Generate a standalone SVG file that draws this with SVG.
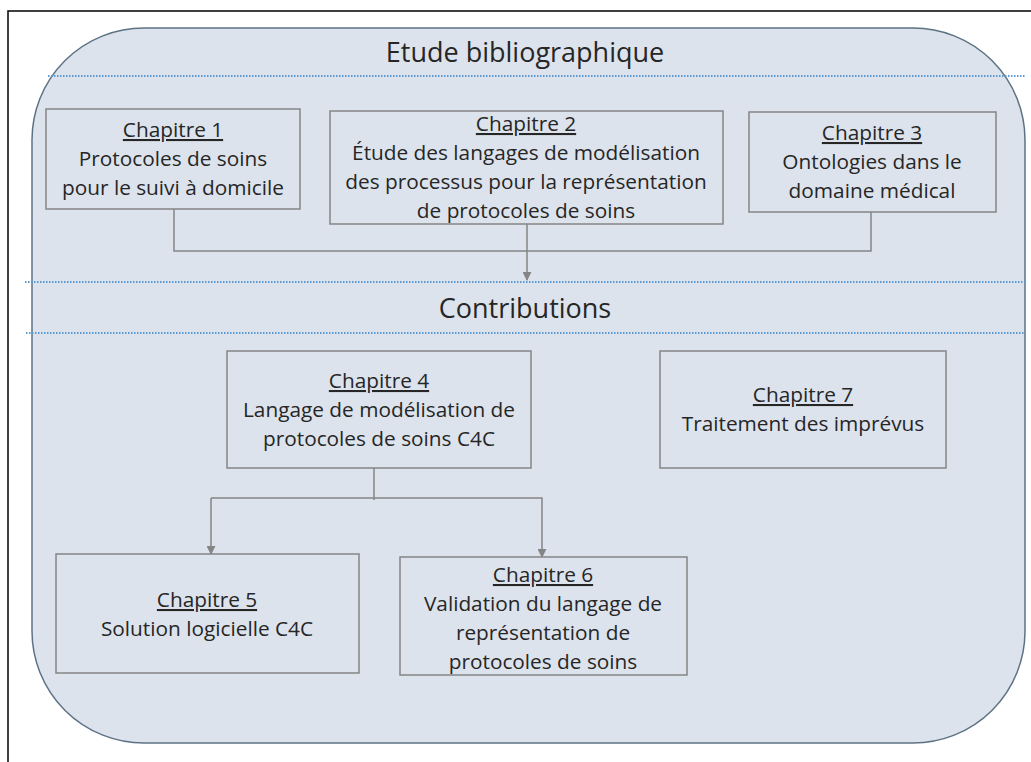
<svg xmlns="http://www.w3.org/2000/svg" width="1031" height="762" viewBox="0 0 1031 762">
<defs>
<style>
.frame{fill:none;stroke:#000;stroke-width:1.5}
.panel{fill:#dce3ec;stroke:#5d7385;stroke-width:1.5}
.sep{stroke:#5b9bd5;stroke-width:2;stroke-dasharray:1.5 1.5;fill:none}
.box{fill:#dce3ec;stroke:#858585;stroke-width:1.5}
.t{font-family:"Open Sans","Liberation Sans",sans-serif;fill:#262626;text-anchor:middle}
.h{font-size:27px}
.b{font-size:20.8px}
.u{text-decoration:underline}
.c{fill:none;stroke:#858585;stroke-width:1.5}
</style>
<marker id="ar" viewBox="0 0 10 10" refX="9" refY="5" markerWidth="6" markerHeight="6" orient="auto" markerUnits="strokeWidth">
<path d="M0,0 L10,5 L0,10 z" fill="#858585"/>
</marker>
</defs>
<rect width="1031" height="762" fill="#fff"/>
<path class="frame" d="M8,762 V11 H1031"/>
<rect class="panel" x="32" y="28" width="993" height="715" rx="112" ry="112"/>
<line class="sep" x1="48" y1="76" x2="1025" y2="76"/>
<line class="sep" x1="25" y1="282" x2="1025" y2="282"/>
<line class="sep" x1="26" y1="333" x2="1025" y2="333"/>
<text class="t h" x="525" y="62">Etude bibliographique</text>
<text class="t h" x="525" y="318">Contributions</text>
<g id="connectors">
<path class="c" d="M174,209 V251 H871 V212"/>
<path class="c" d="M527,224 V280" marker-end="url(#ar)"/>
<path class="c" d="M374,468 V500"/>
<path class="c" d="M211,498 H542 V557" marker-end="url(#ar)"/>
<path class="c" d="M211,498 V554" marker-end="url(#ar)"/>
</g>
<g id="ch1">
<rect class="box" x="46" y="109" width="254" height="100"/>
<text class="t b" x="173"><tspan class="u" x="173" y="137">Chapitre 1</tspan><tspan x="173" y="166">Protocoles de soins</tspan><tspan x="173" y="195">pour le suivi à domicile</tspan></text>
</g>
<g id="ch2">
<rect class="box" x="330" y="111" width="393" height="113"/>
<text class="t b" x="526"><tspan class="u" x="526" y="131">Chapitre 2</tspan><tspan x="526" y="160">Étude des langages de modélisation</tspan><tspan x="526" y="189">des processus pour la représentation</tspan><tspan x="526" y="218">de protocoles de soins</tspan></text>
</g>
<g id="ch3">
<rect class="box" x="749" y="112" width="247" height="100"/>
<text class="t b" x="872"><tspan class="u" x="872" y="140">Chapitre 3</tspan><tspan x="872" y="169">Ontologies dans le</tspan><tspan x="872" y="198">domaine médical</tspan></text>
</g>
<g id="ch4">
<rect class="box" x="227" y="351" width="304" height="117"/>
<text class="t b" x="379"><tspan class="u" x="379" y="388">Chapitre 4</tspan><tspan x="379" y="417">Langage de modélisation de</tspan><tspan x="379" y="446">protocoles de soins C4C</tspan></text>
</g>
<g id="ch7">
<rect class="box" x="660" y="351" width="286" height="117"/>
<text class="t b" x="803"><tspan class="u" x="803" y="402">Chapitre 7</tspan><tspan x="803" y="431">Traitement des imprévus</tspan></text>
</g>
<g id="ch5">
<rect class="box" x="56" y="554" width="303" height="119"/>
<text class="t b" x="207"><tspan class="u" x="207" y="607">Chapitre 5</tspan><tspan x="207" y="636">Solution logicielle C4C</tspan></text>
</g>
<g id="ch6">
<rect class="box" x="400" y="557" width="287" height="118"/>
<text class="t b" x="543"><tspan class="u" x="543" y="582">Chapitre 6</tspan><tspan x="543" y="611">Validation du langage de</tspan><tspan x="543" y="640">représentation de</tspan><tspan x="543" y="669">protocoles de soins</tspan></text>
</g>
</svg>
